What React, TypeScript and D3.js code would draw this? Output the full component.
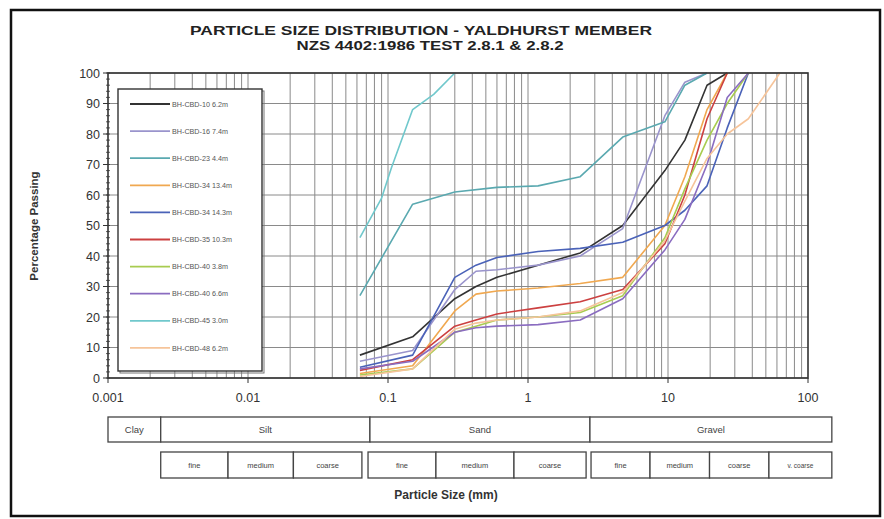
import React from "react";
import * as d3 from "d3";

const W = 884;
const H = 519;

const seriesNames = [
  "BH-CBD-10 6.2m",
  "BH-CBD-16 7.4m",
  "BH-CBD-23 4.4m",
  "BH-CBD-34 13.4m",
  "BH-CBD-34 14.3m",
  "BH-CBD-35 10.3m",
  "BH-CBD-40 3.8m",
  "BH-CBD-40 6.6m",
  "BH-CBD-45 3.0m",
  "BH-CBD-48 6.2m",
];

const seriesColors = [
  "#333333",
  "#9a94cc",
  "#5aa9b0",
  "#f0a850",
  "#4a62b8",
  "#cc4040",
  "#a8cc50",
  "#8a6cc0",
  "#70c8cc",
  "#f6c49a",
];

// [size mm, % passing]
const s10_62: [number, number][] = [[0.063, 7.5], [0.15, 13.5], [0.3, 26], [0.425, 30], [0.6, 33], [1.18, 37], [2.36, 41], [4.75, 50], [9.5, 68], [13.2, 78], [19, 96], [26.5, 100]];
const s16_74: [number, number][] = [[0.063, 5.5], [0.15, 9], [0.3, 29], [0.425, 35], [0.6, 35.5], [1.18, 37], [2.36, 40], [4.75, 49], [9.5, 86], [13.2, 97], [19, 100]];
const s23_44: [number, number][] = [[0.063, 27], [0.15, 57], [0.3, 61], [0.6, 62.5], [1.18, 63], [2.36, 66], [4.75, 79], [9.5, 84], [13.2, 96], [19, 100]];
const s34_134: [number, number][] = [[0.063, 1.5], [0.15, 4], [0.3, 22], [0.425, 27.5], [0.6, 28.5], [1.18, 29.5], [2.36, 31], [4.75, 33], [9.5, 50], [13.2, 66], [19, 88], [26.5, 100]];
const s34_143: [number, number][] = [[0.063, 3.5], [0.15, 7.5], [0.3, 33], [0.425, 37], [0.6, 39.5], [1.18, 41.5], [2.36, 42.5], [4.75, 44.5], [9.5, 50], [13.2, 55], [19, 63], [26.5, 82], [37.5, 100]];
const s35_103: [number, number][] = [[0.063, 2.5], [0.15, 6], [0.3, 17], [0.425, 19], [0.6, 21], [1.18, 23], [2.36, 25], [4.75, 29], [9.5, 44], [13.2, 60], [19, 85], [26.5, 100]];
const s40_38: [number, number][] = [[0.063, 1], [0.15, 3], [0.3, 15], [0.425, 17], [0.6, 19], [1.18, 20], [2.36, 21.5], [4.75, 27], [9.5, 46], [13.2, 62], [19, 78], [26.5, 90], [37.5, 100]];
const s40_66: [number, number][] = [[0.063, 3], [0.15, 5.5], [0.3, 15], [0.425, 16.5], [0.6, 17], [1.18, 17.5], [2.36, 19], [4.75, 26], [9.5, 42], [13.2, 52], [19, 70], [26.5, 92], [37.5, 100]];
const s45_30: [number, number][] = [[0.063, 46], [0.09, 59], [0.106, 69], [0.15, 88], [0.212, 93], [0.3, 100]];
const s48_62: [number, number][] = [[0.063, 0.5], [0.15, 3], [0.3, 16], [0.425, 18], [0.6, 19], [1.18, 20], [2.36, 22], [4.75, 28], [9.5, 45], [13.2, 58], [19, 72], [26.5, 80], [37.5, 85], [63, 100]];

const seriesData = [s10_62, s16_74, s23_44, s34_134, s34_143, s35_103, s40_38, s40_66, s45_30, s48_62];

const xTickValues = [0.001, 0.01, 0.1, 1, 10, 100];
const xTickLabels = ["0.001", "0.01", "0.1", "1", "10", "100"];
const yTickValues = [0, 10, 20, 30, 40, 50, 60, 70, 80, 90, 100];

// classification table (boundaries in mm)
const mainClasses = ["Clay", "Silt", "Sand", "Gravel"];
const mainBounds = [0.001, 0.00238, 0.0743, 2.77, 148];
const subGroups: { bounds: number[]; labels: string[] }[] = [
  { bounds: [0.00238, 0.0072, 0.0211, 0.0651], labels: ["fine", "medium", "coarse"] },
  { bounds: [0.072, 0.22, 0.794, 2.6], labels: ["fine", "medium", "coarse"] },
  { bounds: [2.82, 7.44, 19.8, 52.6, 148], labels: ["fine", "medium", "coarse", "v. coarse"] },
];

const FONT = "Liberation Sans, Arial, sans-serif";

export default function App() {
  const left = 108, right = 808, top = 73, bottom = 378;
  const x = d3.scaleLog().domain([0.001, 100]).range([left, right]);
  const y = d3.scaleLinear().domain([0, 100]).range([bottom, top]);
  const line = d3.line<[number, number]>().x((d) => x(d[0])).y((d) => y(d[1]));

  const minorX: number[] = [];
  for (let e = -3; e < 2; e++) {
    for (let k = 1; k <= 9; k++) {
      const v = k * Math.pow(10, e);
      if (v > 0.001) minorX.push(v);
    }
  }
  const minorY = d3.range(0, 101, 2);

  const legX = 118, legY = 89, legW = 144, legH = 282;
  const legRow = (i: number) => legY + 15 + i * 27.1;

  const row1Top = 417, row1H = 25, row2Top = 452, row2H = 26;

  return (
    <svg width={W} height={H} style={{ position: "absolute", left: 0, top: 0, background: "#fff" }} fontFamily={FONT}>
      <rect x={0} y={0} width={W} height={H} fill="#fff" />
      <rect x={11} y={10} width={869} height={506} fill="none" stroke="#111" strokeWidth={2.5} />

      <text x={421} y={35} textAnchor="middle" fontSize={12.5} fontWeight="bold" fill="#222" textLength={462} lengthAdjust="spacingAndGlyphs">
        PARTICLE SIZE DISTRIBUTION - YALDHURST MEMBER
      </text>
      <text x={430} y={50} textAnchor="middle" fontSize={12.5} fontWeight="bold" fill="#222" textLength={267} lengthAdjust="spacingAndGlyphs">
        NZS 4402:1986 TEST 2.8.1 &amp; 2.8.2
      </text>

      {/* grid */}
      {minorX.map((v, i) => (
        <line key={"gx" + i} x1={x(v)} x2={x(v)} y1={top} y2={bottom} stroke="#8a8a8a" strokeWidth={1} />
      ))}
      {yTickValues.map((v) => (
        <line key={"gy" + v} x1={left} x2={right} y1={y(v)} y2={y(v)} stroke="#8a8a8a" strokeWidth={1} />
      ))}

      {/* series */}
      {seriesData.map((d, i) => (
        <path key={"s" + i} d={line(d) || ""} fill="none" stroke={seriesColors[i]} strokeWidth={1.6} strokeLinejoin="round" />
      ))}

      {/* plot border */}
      <rect x={left} y={top} width={right - left} height={bottom - top} fill="none" stroke="#333" strokeWidth={1.6} />

      {/* y ticks */}
      {minorY.map((v) => (
        <line key={"my" + v} x1={left - 2} x2={left + 2} y1={y(v)} y2={y(v)} stroke="#333" strokeWidth={0.8} />
      ))}
      {yTickValues.map((v) => (
        <g key={"yt" + v}>
          <line x1={left - 5} x2={left} y1={y(v)} y2={y(v)} stroke="#333" strokeWidth={1} />
          <text x={left - 8} y={y(v) + 4.5} textAnchor="end" fontSize={12.5} fill="#333">{v}</text>
        </g>
      ))}
      {xTickValues.map((v, i) => (
        <g key={"xt" + v}>
          <line x1={x(v)} x2={x(v)} y1={bottom} y2={bottom + 5} stroke="#333" strokeWidth={1} />
          <text x={x(v)} y={bottom + 24} textAnchor="middle" fontSize={12.5} fill="#333">{xTickLabels[i]}</text>
        </g>
      ))}

      <text transform={`translate(38,226) rotate(-90)`} textAnchor="middle" fontSize={11.5} fontWeight="bold" fill="#333">
        Percentage Passing
      </text>

      {/* legend */}
      <rect x={legX + 2} y={legY + 2} width={legW} height={legH} fill="none" stroke="#777" strokeWidth={1} />
      <rect x={legX} y={legY} width={legW} height={legH} fill="#fff" stroke="#333" strokeWidth={1.4} />
      {seriesNames.map((n, i) => (
        <g key={"lg" + i}>
          <line x1={legX + 12} x2={legX + 52} y1={legRow(i)} y2={legRow(i)} stroke={seriesColors[i]} strokeWidth={1.8} />
          <text x={legX + 54} y={legRow(i) + 2.6} fontSize={7.2} fill="#555">{n}</text>
        </g>
      ))}

      {/* classification table */}
      {mainClasses.map((c, i) => {
        const x0 = x(mainBounds[i]);
        const x1 = x(mainBounds[i + 1]);
        return (
          <g key={"mc" + i}>
            <rect x={x0} y={row1Top} width={x1 - x0} height={row1H} fill="#fff" stroke="#444" strokeWidth={1.3} />
            <text x={(x0 + x1) / 2} y={row1Top + 16} textAnchor="middle" fontSize={9.5} fill="#444">{c}</text>
          </g>
        );
      })}
      {subGroups.map((g, gi) => (
        <g key={"sg" + gi}>
          {g.labels.map((lab, i) => {
            const x0 = x(g.bounds[i]);
            const x1 = x(g.bounds[i + 1]);
            return (
              <g key={"sc" + i}>
                <rect x={x0} y={row2Top} width={x1 - x0} height={row2H} fill="#fff" stroke="#444" strokeWidth={1.3} />
                <text x={(x0 + x1) / 2} y={row2Top + 16} textAnchor="middle" fontSize={lab === "v. coarse" ? 6.5 : 7.5} fill="#444">{lab}</text>
              </g>
            );
          })}
        </g>
      ))}

      <text x={446} y={499} textAnchor="middle" fontSize={12} fontWeight="bold" fill="#333">
        Particle Size (mm)
      </text>
    </svg>
  );
}
